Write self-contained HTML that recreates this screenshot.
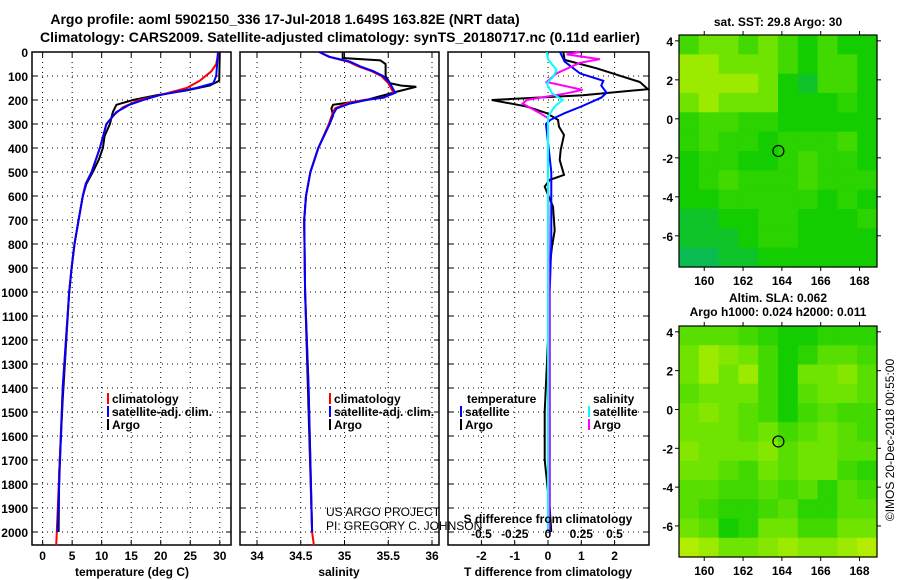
<!DOCTYPE html>
<html><head><meta charset="utf-8"><style>
html,body{margin:0;padding:0;background:#fff;}
svg{display:block;font-family:"Liberation Sans",Arial,sans-serif;font-weight:bold;font-size:12px;}
</style></head><body>
<svg id="fig" width="900" height="580" viewBox="0 0 900 580" xmlns="http://www.w3.org/2000/svg">
<text x="285" y="24" text-anchor="middle" font-size="14">Argo profile: aoml 5902150_336 17-Jul-2018 1.649S 163.82E (NRT data)</text>
<text x="340" y="42" text-anchor="middle" font-size="14">Climatology: CARS2009. Satellite-adjusted climatology: synTS_20180717.nc (0.11d earlier)</text>
<g id="plots"></g>
<text x="326" y="516" font-weight="normal" font-size="12">US ARGO PROJECT</text>
<text x="326" y="530" font-weight="normal" font-size="12">PI: GREGORY C. JOHNSON</text>
<text transform="translate(894,440) rotate(-90)" text-anchor="middle" font-weight="normal" font-size="12">©IMOS 20-Dec-2018 00:55:00</text>
</svg>
<script>
// ---------- data ----------
const depthTicks=[0,100,200,300,400,500,600,700,800,900,1000,1100,1200,1300,1400,1500,1600,1700,1800,1900,2000];
const tempTicks=[0,5,10,15,20,25,30];
const salTicks=[34,34.5,35,35.5,36];
const salTickLabels=["34","34.5","35","35.5","36"];
const tdTicks=[-2,-1,0,1,2];
const sdTicks=[-0.5,-0.25,0,0.25,0.5];
const sdTickLabels=["-0.5","-0.25","0","0.25","0.5"];

const tempClimDepth=[0,50,80,120,150,180,200,230,260,300,400,500,550,600,700,800,900,1000,1400,2000,2055];
const tempClimVal=[29.8,29.4,28.6,26.6,24.4,19.8,16.4,13.6,12.2,10.8,9.7,8.3,7.3,6.8,6.1,5.4,4.9,4.5,3.4,2.4,2.3];
const tempSatDepth=[0,100,130,150,180,200,220,250,300,400,500,550,600,700,800,900,1000,1400,2000];
const tempSatVal=[29.7,29.4,28.9,26.0,19.8,17.0,14.7,12.5,10.8,9.7,8.3,7.3,6.8,6.1,5.4,4.9,4.5,3.4,2.5];
const tempArgoDepth=[0,120,140,160,180,200,220,250,300,350,400,450,500,550,600,700,800,900,1000,1450,1750,2000];
const tempArgoVal=[30.0,29.9,28.3,24.4,19.3,15.3,12.5,11.9,11.4,10.5,10.2,9.5,8.5,7.4,6.8,6.1,5.4,4.9,4.5,3.4,2.8,2.7];

const salClimDepth=[0,20,40,60,80,100,130,170,190,200,215,235,260,300,400,500,600,700,1000,1400,2000,2055];
const salClimVal=[34.71,34.82,35.04,35.16,35.31,35.42,35.50,35.56,35.45,35.22,35.02,34.89,34.86,34.82,34.70,34.61,34.56,34.54,34.55,34.59,34.63,34.65];
const salSatDepth=[0,20,40,60,80,100,130,170,190,200,215,235,260,300,400,500,600,700,1000,1400,2000];
const salSatVal=[34.71,34.83,35.06,35.18,35.33,35.44,35.52,35.58,35.44,35.25,35.06,34.91,34.87,34.83,34.70,34.61,34.56,34.54,34.55,34.59,34.63];
const salArgoDepth=[0,25,35,50,100,130,140,145,165,200,220,235,265,300,400,500,600,700,1000,2000];
const salArgoVal=[34.98,34.98,35.41,35.47,35.47,35.52,35.65,35.82,35.60,35.25,34.87,34.85,34.87,34.83,34.70,34.61,34.56,34.54,34.55,34.63];

const tdArgoDepth=[0,33,68,125,155,180,200,227,255,283,311,346,408,450,512,533,561,644,744,811,894,1000,1200,1500,1700,1900,2000];
const tdArgoVal=[0.46,0.5,1.46,2.76,3.0,1.05,-1.69,-0.64,-0.04,0.3,0.33,0.48,0.38,0.35,0.48,0.05,-0.1,0.15,0.2,0.12,0.05,0.02,0,-0.1,-0.1,0.05,0.1];
const tdSatDepth=[0,40,89,120,140,170,190,227,255,283,300,500,800,1000,2000];
const tdSatVal=[0.36,0.5,0.96,1.66,1.6,1.76,1.6,1.0,0.5,0.07,-0.06,0.1,0.1,0.05,0.05];
const sdArgoDepth=[0,10,30,45,89,125,158,172,200,215,255,276,500,1000,2000];
const sdArgoVal=[0.24,0.14,0.39,0.24,0.065,-0.01,0.26,0.14,-0.16,-0.19,-0.06,0,0.0,0.01,0.01];
const sdSatDepth=[0,30,75,103,131,172,200,227,270,500,1000,2000];
const sdSatVal=[-0.01,0.0,0.065,0.04,-0.01,0.03,0.11,0.05,0,0,0,0];

const mapLatTicks=[4,2,0,-2,-4,-6];
const mapLonTicks=[160,162,164,166,168];
const argoLon=163.82, argoLat=-1.649;
const sstGrid=[
[.5,.6,.6,.5,.6,.5,.4,.5,.4,.4],
[.7,.7,.6,.6,.6,.5,.4,.5,.5,.4],
[.7,.7,.7,.7,.6,.4,.35,.5,.5,.4],
[.6,.7,.6,.6,.6,.4,.4,.4,.45,.4],
[.45,.5,.5,.45,.45,.4,.4,.4,.4,.4],
[.45,.5,.45,.45,.4,.45,.45,.45,.5,.4],
[.4,.45,.45,.4,.4,.45,.5,.45,.45,.4],
[.4,.45,.5,.45,.45,.45,.5,.45,.45,.45],
[.4,.4,.45,.45,.45,.45,.45,.4,.45,.4],
[.35,.35,.4,.4,.45,.45,.4,.4,.4,.45],
[.35,.35,.35,.4,.45,.45,.4,.4,.4,.4],
[.3,.3,.35,.35,.4,.4,.4,.4,.4,.4]];
const slaGrid=[
[.55,.55,.55,.5,.45,.4,.4,.45,.45,.45],
[.6,.7,.65,.6,.5,.4,.45,.55,.55,.5],
[.6,.7,.6,.7,.5,.4,.6,.6,.65,.55],
[.55,.6,.6,.6,.5,.4,.55,.6,.6,.55],
[.6,.65,.6,.55,.5,.4,.5,.55,.5,.5],
[.6,.6,.6,.55,.6,.5,.55,.6,.55,.5],
[.65,.6,.6,.6,.65,.55,.6,.6,.55,.55],
[.6,.6,.55,.5,.6,.55,.6,.6,.5,.45],
[.55,.55,.5,.5,.55,.5,.55,.45,.55,.5],
[.55,.5,.45,.45,.5,.55,.45,.45,.55,.55],
[.6,.55,.4,.45,.6,.6,.5,.5,.6,.6],
[.75,.7,.6,.6,.65,.7,.65,.65,.7,.75]];

// ---------- helpers ----------
const NS="http://www.w3.org/2000/svg";
const root=document.getElementById('plots');
function el(tag,attrs,parent){const e=document.createElementNS(NS,tag);for(const k in attrs)e.setAttribute(k,attrs[k]);(parent||root).appendChild(e);return e;}
function txt(x,y,s,anchor,parent,size){const t=el('text',{x:x,y:y,'text-anchor':anchor||'start'},parent);if(size)t.setAttribute('font-size',size);t.textContent=s;return t;}
const PT=52,PB=545;const DMAX=(PB-PT)/0.24;
const yD=d=>PT+d*(PB-PT)/DMAX;
function lin(d0,d1,r0,r1){return v=>r0+(v-d0)*(r1-r0)/(d1-d0);}

function profilePanel(name,L,R,xs,xticks,xlabels,showDepth){
  const g=el('g',{});
  
  
  // grid
  xticks.forEach(v=>{const l=el('line',{x1:xs(v),x2:xs(v),y1:PT,y2:PB,stroke:'#000','stroke-dasharray':'1,4','stroke-width':1},g);
    });
  depthTicks.forEach(d=>{const l=el('line',{x1:L,x2:R,y1:yD(d),y2:yD(d),stroke:'#000','stroke-dasharray':'1,4','stroke-width':1},g);
    
    el('line',{x1:L,x2:L+5,y1:yD(d),y2:yD(d),stroke:'#000'},g);el('line',{x1:R-5,x2:R,y1:yD(d),y2:yD(d),stroke:'#000'},g);
    if(showDepth){const t=txt(L-4,yD(d)+5,String(d),'end',g);}
  });
  xticks.forEach((v,i)=>{el('line',{x1:xs(v),x2:xs(v),y1:PB-5,y2:PB,stroke:'#000'},g);el('line',{x1:xs(v),x2:xs(v),y1:PT,y2:PT+5,stroke:'#000'},g);
    if(xlabels){const t=txt(xs(v),PB+15,xlabels[i],'middle',g);}});
  const b=el('rect',{x:L,y:PT,width:R-L,height:PB-PT,fill:'none',stroke:'#000','stroke-width':1.5},g);
  
  return g;
}
function series(g,name,depths,vals,xs,color,w){
  const pts=depths.map((d,i)=>xs(vals[i]).toFixed(1)+','+yD(d).toFixed(1)).join(' ');
  const p=el('polyline',{points:pts,fill:'none',stroke:color,'stroke-width':w||2},g);
  
  
}
function legendEntry(g,x,y,color,label){
  const r=el('rect',{x:x,y:y-10,width:2,height:11,fill:color},g);
  
  const t=txt(x+5,y,label,'start',g);
  
}

// Panel 1: temperature
const xT=lin(-1.8,31.9,32,231);
const g1=profilePanel('temperature-panel',32,231,xT,tempTicks,tempTicks.map(String),true);
series(g1,'temp-argo-line',tempArgoDepth,tempArgoVal,xT,'#000');
series(g1,'temp-climatology-line',tempClimDepth,tempClimVal,xT,'#f00');
series(g1,'temp-satellite-line',tempSatDepth,tempSatVal,xT,'#00f');
const xl1=txt(132,576,'temperature (deg C)','middle',g1);
legendEntry(g1,107,403,'#f00','climatology');
legendEntry(g1,107,416,'#00f','satellite-adj. clim.');
legendEntry(g1,107,429,'#000','Argo');

// Panel 2: salinity
const xS=lin(34,35,257,344.5);
const g2=profilePanel('salinity-panel',240,439,xS,salTicks,salTickLabels,false);
series(g2,'sal-argo-line',salArgoDepth,salArgoVal,xS,'#000');
series(g2,'sal-climatology-line',salClimDepth,salClimVal,xS,'#f00');
series(g2,'sal-satellite-line',salSatDepth,salSatVal,xS,'#00f');
const xl2=txt(339,576,'salinity','middle',g2);
legendEntry(g2,329,403,'#f00','climatology');
legendEntry(g2,329,416,'#00f','satellite-adj. clim.');
legendEntry(g2,329,429,'#000','Argo');

// Panel 3: differences
const xTD=lin(0,1,548,581.3);
const xSD=lin(0,1,548,681);
const g3=profilePanel('difference-panel',448,649,xTD,tdTicks,tdTicks.map(String),false);
series(g3,'tdiff-argo-line',tdArgoDepth,tdArgoVal,xTD,'#000');
series(g3,'tdiff-satellite-line',tdSatDepth,tdSatVal,xTD,'#00f');
series(g3,'sdiff-argo-line',sdArgoDepth,sdArgoVal,xSD,'#f0f');
series(g3,'sdiff-satellite-line',sdSatDepth,sdSatVal,xSD,'#0ff');
const xl3=txt(548,576,'T difference from climatology','middle',g3);
const st=txt(548,523,'S difference from climatology','middle',g3);
sdTicks.forEach((v,i)=>{const t=txt(xSD(v),538,sdTickLabels[i],'middle',g3);});
const lt=txt(467,403,'temperature','start',g3);
const ls=txt(593,403,'salinity','start',g3);
legendEntry(g3,460,416,'#00f','satellite');
legendEntry(g3,460,429,'#000','Argo');
legendEntry(g3,588,416,'#0ff','satellite');
legendEntry(g3,588,429,'#f0f','Argo');

// ---------- maps ----------
function cmap(v){ // teal -> green -> yellow-green -> yellow
  const stops=[[0.2,[0,170,160]],[0.4,[20,205,0]],[0.6,[110,228,0]],[0.8,[200,240,0]],[1,[235,235,0]]];
  if(v<=stops[0][0])return 'rgb('+stops[0][1]+')';
  for(let i=1;i<stops.length;i++){if(v<=stops[i][0]){const a=stops[i-1],b=stops[i];const t=(v-a[0])/(b[0]-a[0]);
    return 'rgb('+a[1].map((c,k)=>Math.round(c+(b[1][k]-c)*t)).join(',')+')';}}
  return 'rgb(235,235,0)';
}
function mapPanel(name,T,B,grid,titles){
  const L=679,R=877;
  const xL=lin(158.7,168.9,L,R), yL=lin(4.3,-7.6,T,B);
  const g=el('g',{});
  
  
  const rows=grid.length, cols=grid[0].length;
  const cw=(R-L)/cols, ch=(B-T)/rows;
  grid.forEach((row,r)=>row.forEach((v,c)=>{
    const cell=el('rect',{x:(L+c*cw).toFixed(2),y:(T+r*ch).toFixed(2),width:(cw+0.6).toFixed(2),height:(ch+0.6).toFixed(2),fill:cmap(v)},g);
    
    
  }));
  const f=el('rect',{x:L,y:T,width:R-L,height:B-T,fill:'none',stroke:'#000','stroke-width':1.2},g);
  
  mapLatTicks.forEach(v=>{el('line',{x1:L-4,x2:L,y1:yL(v),y2:yL(v),stroke:'#000'},g);el('line',{x1:R,x2:R+4,y1:yL(v),y2:yL(v),stroke:'#000'},g);
    const t=txt(L-6,yL(v)+5,String(v),'end',g);});
  mapLonTicks.forEach(v=>{el('line',{x1:xL(v),x2:xL(v),y1:B,y2:B+4,stroke:'#000'},g);el('line',{x1:xL(v),x2:xL(v),y1:T-4,y2:T,stroke:'#000'},g);
    const t=txt(xL(v),B+18,String(v),'middle',g);});
  const c=el('circle',{cx:xL(argoLon),cy:yL(argoLat),r:5.5,fill:'none',stroke:'#000','stroke-width':1.2},g);
  
  titles.forEach((s,i)=>{const t=txt(778,titles.length==1?T-9:T-24+i*14,s,'middle',g);});
}
mapPanel('sst-map',35,267,sstGrid,['sat. SST: 29.8 Argo: 30']);
mapPanel('sla-map',326,557,slaGrid,['Altim. SLA: 0.062','Argo h1000: 0.024 h2000: 0.011']);
</script>
</body></html>
